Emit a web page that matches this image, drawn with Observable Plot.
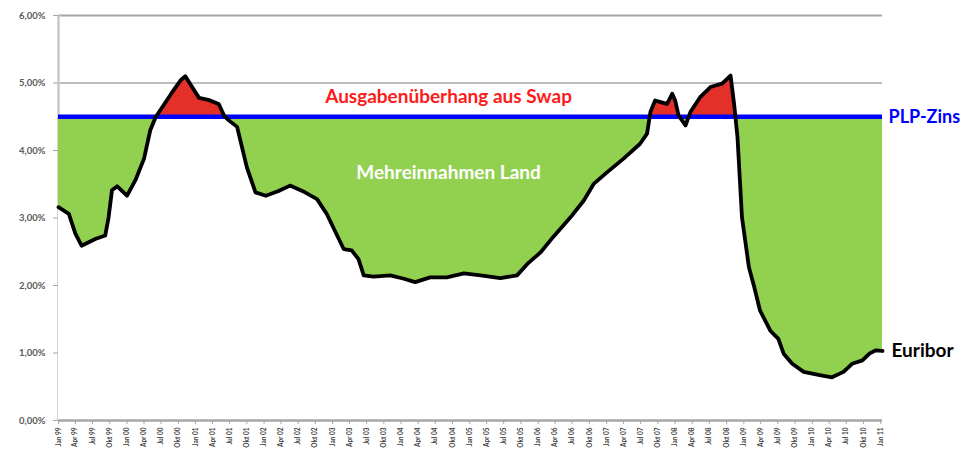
<!DOCTYPE html>
<html>
<head>
<meta charset="utf-8">
<script src="https://cdn.jsdelivr.net/npm/d3@7"></script>
<script src="https://cdn.jsdelivr.net/npm/@observablehq/plot@0.6"></script>
<style>
  html, body { margin: 0; padding: 0; background: #fff; }
  #chart svg { display: block; }
</style>
</head>
<body>
<div id="chart"></div>
<script>
// ---- data ----
const dates = [
  "1999-01-01","1999-02-25","1999-04-01","1999-05-04","1999-07-16","1999-09-07","1999-09-25","1999-10-13","1999-11-10",
  "2000-01-01","2000-02-15","2000-04-01","2000-05-04","2000-06-01","2000-07-07","2000-08-28","2000-10-13","2000-11-07","2000-12-13",
  "2001-01-19","2001-03-10","2001-05-04","2001-06-01","2001-06-25","2001-08-10","2001-10-01","2001-11-16",
  "2002-01-10","2002-03-19","2002-05-19","2002-08-07","2002-10-10","2002-12-01",
  "2003-03-01","2003-04-13","2003-05-19","2003-06-16","2003-08-07","2003-11-04",
  "2004-01-16","2004-03-16","2004-06-04","2004-09-01","2004-12-01",
  "2005-02-28","2005-06-13","2005-09-10","2005-11-04",
  "2006-01-13","2006-03-22","2006-06-22","2006-09-01","2006-10-25",
  "2007-01-04","2007-04-01","2007-06-28","2007-08-04","2007-08-22","2007-09-16","2007-11-19","2007-12-16",
  "2008-01-01","2008-01-19","2008-02-25","2008-03-22","2008-05-13","2008-07-07","2008-09-07","2008-10-22","2008-11-10","2008-11-28","2008-12-22",
  "2009-01-28","2009-02-25","2009-03-28","2009-05-22","2009-07-04","2009-08-01","2009-09-16","2009-11-16",
  "2010-02-16","2010-04-16","2010-06-16","2010-08-01","2010-09-25","2010-11-01","2010-12-04","2011-01-10"
];
const euribor = [
  3.16,3.06,2.77,2.59,2.69,2.74,3.01,3.41,3.47,
  3.33,3.56,3.88,4.30,4.49,4.64,4.86,5.04,5.10,4.94,
  4.78,4.75,4.69,4.52,4.45,4.35,3.75,3.38,
  3.33,3.40,3.48,3.38,3.28,3.06,
  2.54,2.52,2.39,2.15,2.13,2.15,
  2.10,2.05,2.12,2.12,2.18,
  2.15,2.11,2.15,2.32,
  2.49,2.72,3.01,3.26,3.51,
  3.68,3.88,4.10,4.25,4.57,4.74,4.69,4.84,
  4.74,4.52,4.37,4.57,4.79,4.94,4.99,5.11,4.69,4.20,3.01,
  2.27,1.98,1.63,1.33,1.21,0.99,0.84,0.72,
  0.67,0.64,0.72,0.84,0.89,0.99,1.04,1.03
];
const plpZins = 4.5;
const yTicks = [0, 1, 2, 3, 4, 5, 6];
const monthNames = ["Jan","Feb","Mrz","Apr","Mai","Jun","Jul","Aug","Sep","Okt","Nov","Dez"];
const labelTexts = {
  swap: "Ausgabenüberhang aus Swap",
  land: "Mehreinnahmen Land",
  plp: "PLP-Zins",
  euribor: "Euribor"
};

// ---- build ----
const data = dates.map((d, i) => ({date: new Date(d + "T00:00:00Z"), v: euribor[i]}));
const x0 = data[0].date, x1 = data[data.length - 1].date;
const xTicks = d3.utcMonth.every(3).range(x0, new Date(Date.UTC(2011, 0, 2)));
const fmtX = d => monthNames[d.getUTCMonth()] + " " + String(d.getUTCFullYear() % 100).padStart(2, "0");
const fmtY = d => d.toFixed(2).replace(".", ",") + "%";
const font = "Lato, 'Open Sans', sans-serif";
const midDate = new Date("2004-09-10T00:00:00Z");

const chart = Plot.plot({
  width: 964,
  height: 463,
  marginLeft: 58,
  marginRight: 82,
  marginTop: 15,
  marginBottom: 43,
  style: {fontFamily: font, background: "#fff"},
  x: {type: "utc", domain: [x0, x1]},
  y: {domain: [0, 6]},
  marks: [
    Plot.ruleY(yTicks.filter(t => t > 0), {stroke: "#a6a6a6", strokeWidth: d => d === 6 ? 2 : 1.5}),
    Plot.ruleX([x0], {stroke: "#c8c8c8", strokeWidth: 2.5}),
    // red: everything under the curve (only the part above PLP stays visible)
    Plot.areaY(data, {x: "date", y: "v", fill: "#e3312a"}),
    // green: band from 0 to PLP-Zins
    Plot.areaY(data, {x: "date", y: () => plpZins, fill: "#92d050"}),
    // white: under the curve, capped at PLP-Zins
    Plot.areaY(data, {x: "date", y: d => Math.min(d.v, plpZins), fill: "#ffffff"}),
    Plot.ruleY([plpZins], {stroke: "#0000ff", strokeWidth: 4.5}),
    Plot.lineY(data, {x: "date", y: "v", stroke: "#000", strokeWidth: 3.8, strokeLinejoin: "round", strokeLinecap: "round"}),
    Plot.ruleY([0], {stroke: "#a6a6a6", strokeWidth: 2.5}),
    Plot.axisY({ticks: yTicks, tickFormat: fmtY, tickSize: 5, tickPadding: 8, fontSize: 9.5, fontWeight: "bold", fill: "#595959", stroke: "#a6a6a6", label: null}),
    Plot.axisX({ticks: xTicks, tickFormat: fmtX, tickSize: 4, tickPadding: 3, tickRotate: -90, fontSize: 6.5, fontWeight: "bold", fill: "#404040", stroke: "#a6a6a6", label: null}),
    Plot.text([labelTexts.swap], {x: () => midDate, y: () => 4.8, fill: "#ff1a1a", fontSize: 19, fontWeight: "bold"}),
    Plot.text([labelTexts.land], {x: () => midDate, y: () => 3.67, fill: "#ffffff", fontSize: 19, fontWeight: "bold"}),
    Plot.text([labelTexts.plp], {x: () => x1, y: () => plpZins, dx: 6, textAnchor: "start", fill: "#0000ff", fontSize: 18, fontWeight: "bold"}),
    Plot.text([labelTexts.euribor], {x: () => x1, y: () => euribor[euribor.length - 1], dx: 9, textAnchor: "start", fill: "#000", fontSize: 19, fontWeight: "bold"})
  ]
});
document.getElementById("chart").appendChild(chart);
</script>
</body>
</html>
